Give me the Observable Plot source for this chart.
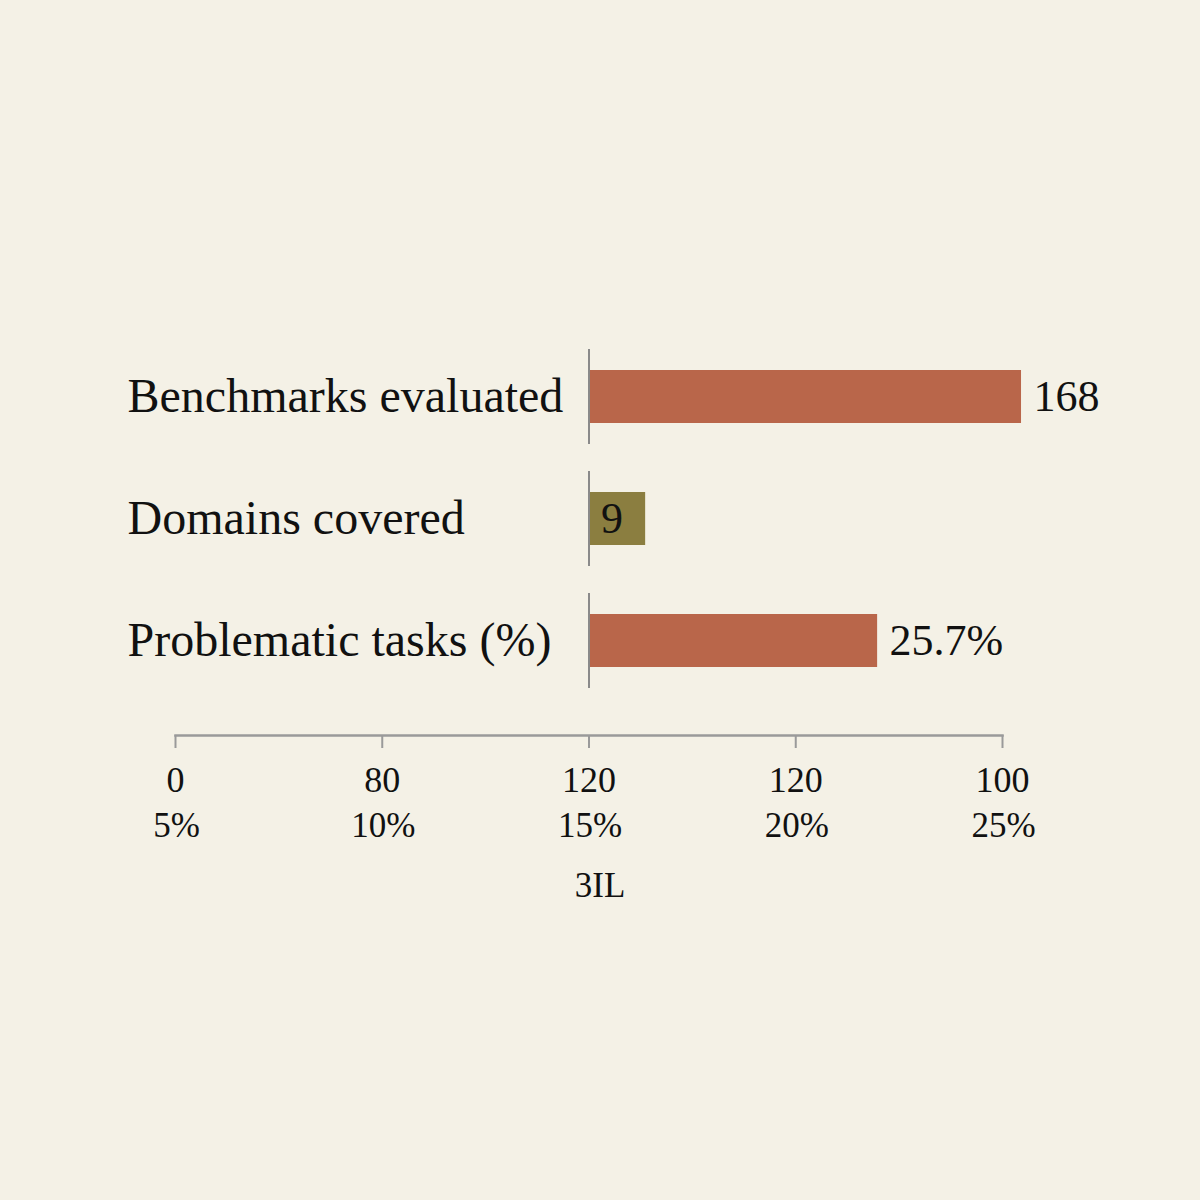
<!DOCTYPE html>
<html>
<head>
<meta charset="utf-8">
<script src="https://cdn.jsdelivr.net/npm/d3@7"></script>
<script src="https://cdn.jsdelivr.net/npm/@observablehq/plot@0.6"></script>
<style>
  html, body { margin: 0; padding: 0; background: #f4f1e6; }
  #chart { width: 1200px; height: 1200px; }
  svg { font-family: "Liberation Serif", "DejaVu Serif", serif; }
</style>
</head>
<body>
<div id="chart"></div>
<script>
// Data
const categories = ["Benchmarks evaluated", "Domains covered", "Problematic tasks (%)"];
const valueLabels = ["168", "9", "25.7%"];
// bar ends in the units of the bottom axis (percent), bars start at the 15% baseline
const baseline = 15;
const barEnds = [25.46, 16.37, 21.98];
const barColors = ["#b9664a", "#8b7e40", "#b9664a"];
const tickValues = [5, 10, 15, 20, 25];
const tickTop = ["0", "80", "120", "120", "100"];
const tickBottom = ["5%", "10%", "15%", "20%", "25%"];
const axisLabel = "3IL";

const rows = categories.map((c, i) => ({
  label: c, text: valueLabels[i], start: baseline, end: barEnds[i], color: barColors[i]
}));

const chart = Plot.plot({
  width: 1200,
  height: 1200,
  marginLeft: 175,
  marginRight: 198,
  marginTop: 0,
  marginBottom: 465,
  style: { background: "#f4f1e6", fontFamily: "Liberation Serif, serif", color: "#111" },
  x: { domain: [5, 25] },
  y: { domain: categories, range: [321, 716], padding: 0.224, axis: null },
  color: { type: "identity" },
  marks: [
    Plot.barX(rows, { x1: "start", x2: "end", y: "label", fill: "color", insetTop: 21, insetBottom: 21 }),
    Plot.tickX(rows, { x: "start", y: "label", stroke: "#8a8a8a", strokeWidth: 2 }),
    Plot.text(rows, {
      x: d => (d.end - d.start < 2 ? d.start : d.end), y: "label", text: "text",
      textAnchor: "start", dx: 12, fontSize: 44, fill: "#111", lineAnchor: "middle"
    }),
    Plot.text(rows, {
      y: "label", text: "label", frameAnchor: "left", textAnchor: "start",
      dx: -48, fontSize: 48, fill: "#111", lineAnchor: "middle"
    }),
    Plot.frame({ anchor: "bottom", stroke: "#9a9a9a", strokeWidth: 2.5 }),
    Plot.axisX({ ticks: tickValues, tickSize: 13, tickFormat: () => "", stroke: "#9a9a9a", strokeWidth: 2, label: null }),
    Plot.text(tickValues, { x: d => d, text: (d, i) => tickTop[i], frameAnchor: "bottom", dy: 44.5, lineAnchor: "middle", fontSize: 36, fill: "#111" }),
    Plot.text(tickValues, { x: d => d, text: (d, i) => tickBottom[i], frameAnchor: "bottom", dy: 90, dx: 1, lineAnchor: "middle", fontSize: 35, fill: "#111" }),
    Plot.text([axisLabel], { frameAnchor: "bottom", text: d => d, dy: 150, dx: 11, lineAnchor: "middle", fontSize: 35, fill: "#111" })
  ]
});
document.getElementById("chart").append(chart);
</script>
</body>
</html>
